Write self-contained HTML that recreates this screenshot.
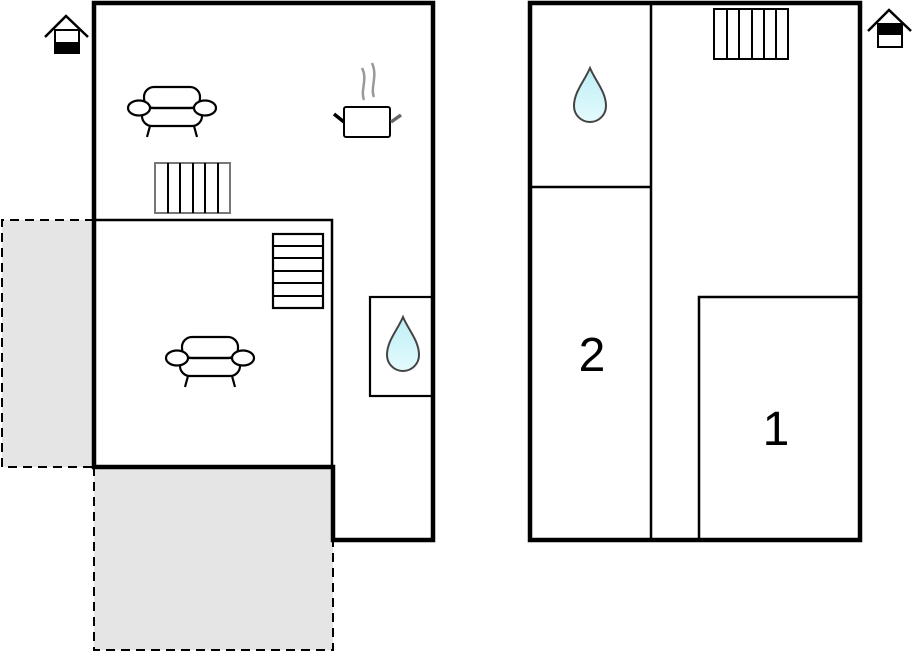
<!DOCTYPE html>
<html><head><style>body{margin:0;background:#fff}svg{display:block}</style></head><body>
<svg width="912" height="652" viewBox="0 0 912 652" xmlns="http://www.w3.org/2000/svg">
<defs>
<linearGradient id="w" x1="0" y1="0" x2="0" y2="1"><stop offset="0" stop-color="#bdeef5"/><stop offset="1" stop-color="#e4fbfd"/></linearGradient>
<g id="sofa" fill="#fff" stroke="#000" stroke-width="2.2">
<path d="M-22 18 L-25 29 M22 18 L25 29" fill="none"/>
<rect x="-30" y="-4" width="60" height="22" rx="10"/>
<rect x="-28" y="-21" width="56" height="21" rx="10"/>
<path d="M-28 0 H28" fill="none"/>
<ellipse cx="-33" cy="0" rx="11" ry="7.5"/>
<ellipse cx="33" cy="0" rx="11" ry="7.5"/>
</g>
<path id="drop" d="M0 0 C-6 14 -16 24 -16 38 A16 16 0 0 0 16 38 C16 24 6 14 0 0Z" fill="url(#w)" stroke="#444" stroke-width="2"/>
</defs>
<!-- dashed grey terraces -->
<rect x="2" y="220" width="92" height="247" fill="#e5e5e5"/>
<rect x="94" y="467" width="239" height="183" fill="#e5e5e5"/>
<g fill="none" stroke="#000" stroke-width="2" stroke-dasharray="9,6">
<path d="M94 220 H2 V467 H94"/>
<path d="M94 467 V650 H333 V540"/>
</g>
<!-- left building -->
<path d="M94 3 H433 V540 H333 V467 H94 Z" fill="#fff" stroke="#000" stroke-width="4.5"/>
<rect x="94" y="220" width="238" height="247" fill="none" stroke="#000" stroke-width="2.5"/>
<rect x="370" y="297" width="63" height="99" fill="none" stroke="#000" stroke-width="2.2"/>
<use href="#drop" x="403" y="317"/>
<!-- stairs top left -->
<rect x="155" y="163" width="75" height="50" fill="#fff" stroke="#777" stroke-width="2"/>
<path d="M168 163V213M180 163V213M193 163V213M205 163V213M218 163V213" stroke="#000" stroke-width="2"/>
<!-- stairs inner -->
<rect x="273" y="234" width="50" height="74" fill="#fff" stroke="#000" stroke-width="2.2"/>
<path d="M273 246H323M273 258H323M273 271H323M273 283H323M273 296H323" stroke="#000" stroke-width="2"/>
<use href="#sofa" x="172" y="108"/>
<use href="#sofa" x="210" y="358"/>
<!-- pot -->
<rect x="344" y="107" width="46" height="30" rx="2" fill="#fff" stroke="#000" stroke-width="2"/>
<path d="M334 114 L344 122" stroke="#000" stroke-width="3.5"/>
<path d="M391 122 L401 115" stroke="#666" stroke-width="3.5"/>
<path d="M364 100 C360 90 368 80 362 68 M374 97 C370 88 378 76 372 63" fill="none" stroke="#999" stroke-width="2.5"/>
<!-- house icon left -->
<path d="M45 37 L66 16 L88 37" fill="none" stroke="#000" stroke-width="2.5"/>
<rect x="55" y="30" width="24" height="23" fill="#fff" stroke="#000" stroke-width="2"/>
<rect x="55" y="42" width="24" height="11" fill="#000"/>
<!-- right building -->
<rect x="530" y="3" width="330" height="537" fill="#fff" stroke="#000" stroke-width="4.5"/>
<path d="M651 3V540M530 187H651M699 540V297H860" fill="none" stroke="#000" stroke-width="2.5"/>
<rect x="714" y="9" width="74" height="50" fill="#fff" stroke="#000" stroke-width="2"/>
<path d="M727 9V59M739 9V59M752 9V59M764 9V59M776 9V59" stroke="#000" stroke-width="2"/>
<use href="#drop" x="590" y="68"/>
<text x="592" y="371" font-family="Liberation Sans, sans-serif" font-size="48" text-anchor="middle">2</text>
<text x="776" y="445" font-family="Liberation Sans, sans-serif" font-size="48" text-anchor="middle">1</text>
<!-- house icon right -->
<path d="M868 31 L889 10 L911 31" fill="none" stroke="#000" stroke-width="2.5"/>
<rect x="878" y="24" width="24" height="23" fill="#fff" stroke="#000" stroke-width="2"/>
<rect x="878" y="24" width="24" height="11" fill="#000"/>
</svg>
</body></html>
